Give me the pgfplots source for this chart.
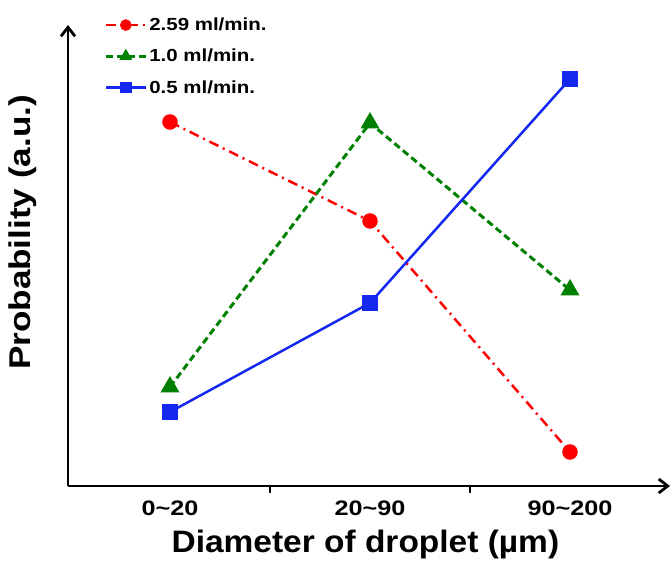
\documentclass[border=0pt]{standalone}
\usepackage{fontspec}
\setmainfont{Liberation Sans}[FakeStretch=1.17]
\newfontfamily\tickfont{Liberation Sans}[FakeStretch=1.2]
\newfontfamily\xlabfont{Liberation Sans}[FakeStretch=1.08]
\usepackage{pgfplots}
\pgfplotsset{compat=1.18}
\usetikzlibrary{arrows.meta}
\begin{document}
\begin{tikzpicture}
\begin{axis}[
  scale only axis,
  width=602pt, height=461pt,
  xmin=-0.51, xmax=2.5,
  ymin=0, ymax=461,
  axis lines=left,
  axis line style={line width=2.8pt, -{Straight Barb[length=9pt,width=14pt]}},
  ytick=\empty,
  xtick={0,1,2},
  xticklabels={0\textasciitilde 20,20\textasciitilde 90,90\textasciitilde 200},
  major tick length=0pt,
  extra x ticks={0.5,1.5},
  extra x tick labels={},
  extra x tick style={major tick length=7pt, tick align=outside, major tick style={line width=2.6pt, black}},
  xticklabel style={font=\tickfont\fontsize{21}{21}\selectfont\bfseries, yshift=-11pt},
  xlabel={Diameter of droplet (µm)},
  ylabel={Probability (a.u.)},
  every axis x label/.style={at={(rel axis cs:0.494,-0.127)}, anchor=center, font=\xlabfont\fontsize{31}{31}\selectfont\bfseries},
  every axis y label/.style={at={(rel axis cs:-0.0748,0.55)}, anchor=center, rotate=90, font=\fontsize{30}{30}\selectfont\bfseries},
  legend style={at={(rel axis cs:0.06,1.02)}, anchor=north west, draw=none, fill=none,
    font=\fontsize{17.5}{17.5}\selectfont\bfseries, row sep=13pt, inner sep=0pt},
  legend cell align=left,
  legend image code/.code={\draw[mark repeat=2,mark phase=2,#1,mark size=4.5pt] plot coordinates {(0pt,0pt) (20pt,0pt) (40pt,0pt)};},
  clip=false,
]
\addplot[red, line width=2.5pt, dash pattern=on 10pt off 5pt on 2pt off 5pt,
  mark=*, mark size=6.5pt, mark options={solid, fill=red}]
  coordinates {(0,364) (1,265) (2,34)};
\addlegendentry{2.59 ml/min.}
\addplot[color={rgb,255:red,0;green,128;blue,0}, line width=3pt, dash pattern=on 7pt off 4pt,
  mark=triangle*, mark size=8pt, mark options={solid}]
  coordinates {(0,99) (1,363) (2,196)};
\addlegendentry{1.0 ml/min.}
\addplot[color={rgb,255:red,20;green,40;blue,240}, line width=2.5pt,
  mark=square*, mark size=6.5pt, mark options={solid}]
  coordinates {(0,74) (1,183) (2,407)};
\addlegendentry{0.5 ml/min.}
\end{axis}
\pgfresetboundingbox
\path[use as bounding box] ([shift={(-68pt,-86pt)}]current axis.south west) rectangle ([shift={(1pt,25pt)}]current axis.north east);
\end{tikzpicture}
\end{document}
